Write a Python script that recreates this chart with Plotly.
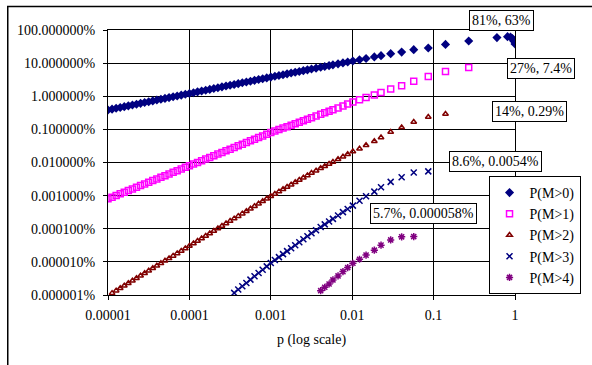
import plotly.graph_objects as go

# shared p values (x axis)
p = [1.000e-5, 1.122e-5, 1.259e-5, 1.413e-5, 1.585e-5, 1.778e-5, 1.995e-5, 2.239e-5, 2.512e-5, 2.818e-5,
     3.162e-5, 3.548e-5, 3.981e-5, 4.467e-5, 5.012e-5, 5.623e-5, 6.310e-5, 7.079e-5, 7.943e-5, 8.913e-5,
     1.000e-4, 1.122e-4, 1.259e-4, 1.413e-4, 1.585e-4, 1.778e-4, 1.995e-4, 2.239e-4, 2.512e-4, 2.818e-4,
     3.162e-4, 3.548e-4, 3.981e-4, 4.467e-4, 5.012e-4, 5.623e-4, 6.310e-4, 7.079e-4, 7.943e-4, 8.913e-4,
     1.000e-3, 1.122e-3, 1.259e-3, 1.413e-3, 1.585e-3, 1.778e-3, 1.995e-3, 2.239e-3, 2.512e-3, 2.818e-3,
     3.162e-3,
     0.0036, 0.0041, 0.0046, 0.0052, 0.0058, 0.0067, 0.0077, 0.0088, 0.0102, 0.0123,
     0.0148, 0.0187, 0.0226, 0.0297, 0.0405, 0.057, 0.086, 0.14, 0.27, 0.6,
     0.81, 0.88, 0.93, 0.97, 1.0]

N = None

pm0 = [0.00385, 0.00408, 0.00432, 0.00458, 0.00485, 0.00513, 0.00543, 0.00576, 0.00610, 0.00646,
       0.00684, 0.00724, 0.00767, 0.00812, 0.00860, 0.00911, 0.00964, 0.0102, 0.0108, 0.0115,
       0.0121, 0.0128, 0.0136, 0.0144, 0.0152, 0.0161, 0.0171, 0.0181, 0.0192, 0.0203,
       0.0215, 0.0227, 0.0240, 0.0255, 0.0269, 0.0285, 0.0302, 0.0319, 0.0338, 0.0358,
       0.0378, 0.0400, 0.0424, 0.0448, 0.0474, 0.0501, 0.0530, 0.0561, 0.0593, 0.0627,
       0.0663,
       0.0706, 0.0751, 0.0794, 0.0842, 0.0887, 0.0950, 0.1015, 0.108, 0.116, 0.126,
       0.138, 0.154, 0.168, 0.193, 0.215, 0.255, 0.285, 0.368, 0.464, 0.59,
       0.63, 0.61, 0.55, 0.46, 0.38]

pm1 = [8.00e-6, 8.98e-6, 1.007e-5, 1.130e-5, 1.268e-5, 1.422e-5, 1.596e-5, 1.791e-5, 2.010e-5, 2.254e-5,
       2.530e-5, 2.838e-5, 3.185e-5, 3.574e-5, 4.010e-5, 4.498e-5, 5.048e-5, 5.663e-5, 6.354e-5, 7.130e-5,
       8.00e-5, 8.98e-5, 1.007e-4, 1.130e-4, 1.268e-4, 1.422e-4, 1.596e-4, 1.791e-4, 2.010e-4, 2.254e-4,
       2.530e-4, 2.838e-4, 3.185e-4, 3.574e-4, 4.010e-4, 4.498e-4, 5.048e-4, 5.663e-4, 6.354e-4, 7.130e-4,
       8.00e-4, 8.87e-4, 9.84e-4, 1.091e-3, 1.210e-3, 1.342e-3, 1.488e-3, 1.650e-3, 1.830e-3, 2.030e-3,
       2.251e-3,
       2.53e-3, 2.85e-3, 3.16e-3, 3.52e-3, 3.88e-3, 4.45e-3, 5.10e-3, 5.80e-3, 6.70e-3, 7.90e-3,
       9.20e-3, 1.10e-2, 1.30e-2, 1.66e-2, 2.08e-2, 2.85e-2, 3.95e-2, 5.60e-2, 7.40e-2, N,
       N, N, N, N, N]

pm2 = [N, 1.137e-8, 1.352e-8, 1.606e-8, 1.909e-8, 2.269e-8, 2.697e-8, 3.205e-8, 3.810e-8, 4.528e-8,
       5.381e-8, 6.395e-8, 7.601e-8, 9.034e-8, 1.074e-7, 1.276e-7, 1.517e-7, 1.802e-7, 2.142e-7, 2.546e-7,
       3.026e-7, 3.597e-7, 4.274e-7, 5.080e-7, 6.038e-7, 7.176e-7, 8.528e-7, 1.014e-6, 1.205e-6, 1.432e-6,
       1.702e-6, 2.022e-6, 2.404e-6, 2.857e-6, 3.395e-6, 4.035e-6, 4.796e-6, 5.700e-6, 6.774e-6, 8.051e-6,
       9.569e-6, 1.124e-5, 1.321e-5, 1.552e-5, 1.823e-5, 2.142e-5, 2.517e-5, 2.957e-5, 3.474e-5, 4.082e-5,
       4.795e-5,
       5.66e-5, 6.69e-5, 7.75e-5, 9.06e-5, 1.04e-4, 1.253e-4, 1.496e-4, 1.774e-4, 2.15e-4, 2.60e-4,
       3.30e-4, 4.40e-4, 5.70e-4, 8.30e-4, 1.15e-3, 1.66e-3, 2.36e-3, 2.90e-3, N, N,
       N, N, N, N, N]

pm3 = [N, N, N, N, N, N, N, N, N, N,
       N, N, N, N, N, N, N, N, N, N,
       N, N, N, N, N, N, N, N, N, N,
       N, 1.158e-8, 1.458e-8, 1.836e-8, 2.311e-8, 2.909e-8, 3.662e-8, 4.611e-8, 5.805e-8, 7.308e-8,
       9.20e-8, 1.132e-7, 1.393e-7, 1.713e-7, 2.108e-7, 2.594e-7, 3.191e-7, 3.926e-7, 4.830e-7, 5.942e-7,
       7.311e-7,
       9.05e-7, 1.123e-6, 1.358e-6, 1.661e-6, 1.986e-6, 2.523e-6, 3.17e-6, 3.95e-6, 5.0e-6, 7.0e-6,
       9.6e-6, 1.32e-5, 1.8e-5, 2.6e-5, 3.6e-5, 4.97e-5, 5.4e-5, N, N, N,
       N, N, N, N, N]

pm4 = [N] * 52 + [1.35e-8, 1.71e-8, 2.15e-8, 2.85e-8, 3.76e-8, 5.08e-8, 6.72e-8, 9.1e-8,
                  1.2e-7, 1.6e-7, 2.26e-7, 3.2e-7, 4.6e-7, 5.7e-7, 5.8e-7] + [N] * 9

series_names = ["P(M>0)", "P(M>1)", "P(M>2)", "P(M>3)", "P(M>4)"]

x_tickvals = [1e-5, 1e-4, 1e-3, 1e-2, 1e-1, 1]
x_ticktext = ["0.00001", "0.0001", "0.001", "0.01", "0.1", "1"]
y_tickvals = [1, 1e-1, 1e-2, 1e-3, 1e-4, 1e-5, 1e-6, 1e-7, 1e-8]
y_ticktext = ["100.000000%", "10.000000%", "1.000000%", "0.100000%", "0.010000%",
              "0.001000%", "0.000100%", "0.000010%", "0.000001%"]

# data labels: (text, paper-x, paper-y)
label_texts = ["81%, 63%", "27%, 7.4%", "14%, 0.29%", "8.6%, 0.0054%", "5.7%, 0.000058%"]
label_pos = [(0.968, 1.034), (1.063, 0.853), (1.035, 0.694), (0.953, 0.502), (0.776, 0.306)]

FONT = "Liberation Serif, Times New Roman, serif"
FS = 14

styles = [
    dict(symbol="diamond", color="#000080", size=7, line=dict(width=0)),
    dict(symbol="square-open", color="#FF00FF", size=6, line=dict(width=1.5, color="#FF00FF")),
    dict(symbol="triangle-up-open", color="#800000", size=5, line=dict(width=1.5, color="#800000")),
    dict(symbol="x-thin-open", color="#000080", size=6, line=dict(width=1.5, color="#000080")),
    dict(symbol="asterisk-open", color="#800080", size=6, line=dict(width=1.5, color="#800080")),
]

fig = go.Figure()
for name, ys, st in zip(series_names, [pm0, pm1, pm2, pm3, pm4], styles):
    fig.add_trace(go.Scatter(x=p, y=ys, mode="markers", name=name, marker=st,
                             legendgroup=name, cliponaxis=True))

axis_common = dict(type="log", showgrid=True, gridcolor="black", gridwidth=1,
                   showline=True, linecolor="black", linewidth=1, mirror=True,
                   ticks="outside", ticklen=4, tickcolor="black", zeroline=False,
                   tickfont=dict(family=FONT, size=FS, color="black"))

fig.update_xaxes(range=[-5, 0], tickvals=x_tickvals, ticktext=x_ticktext,
                 ticklabelstandoff=3,
                 title=dict(text="p (log scale)", font=dict(family=FONT, size=FS, color="black"),
                            standoff=12),
                 **axis_common)
fig.update_yaxes(range=[-8, 0], tickvals=y_tickvals, ticktext=y_ticktext,
                 ticklabelstandoff=5, **axis_common)

for t, (xp, yp) in zip(label_texts, label_pos):
    fig.add_annotation(text=t, xref="paper", yref="paper", x=xp, y=yp,
                       xanchor="center", yanchor="middle", showarrow=False,
                       bordercolor="black", borderwidth=1, borderpad=2, bgcolor="white",
                       font=dict(family=FONT, size=FS, color="black"))

# chart outer border (partially cropped in the reference)
fig.add_shape(type="rect", xref="paper", yref="paper", x0=-0.2463, y0=-0.6, x1=1.6, y1=1.0887,
              line=dict(color="black", width=1.5), layer="below")

fig.update_layout(
    width=592, height=365,
    margin=dict(l=108, r=74, t=30, b=70),
    paper_bgcolor="white", plot_bgcolor="white",
    font=dict(family=FONT, size=FS, color="black"),
    showlegend=True,
    legend=dict(x=1.161, y=0.449, xanchor="right", yanchor="top",
                bordercolor="black", borderwidth=1, bgcolor="white",
                font=dict(family=FONT, size=FS, color="black"),
                tracegroupgap=0, itemwidth=30),
)

fig.write_html("out.html")
